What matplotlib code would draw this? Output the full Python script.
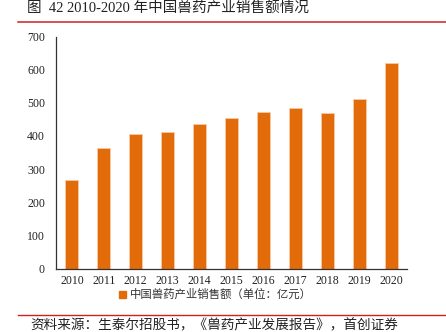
import matplotlib
matplotlib.use("Agg")
import matplotlib.pyplot as plt
from matplotlib.lines import Line2D
from matplotlib.patches import Rectangle

years = ["2010", "2011", "2012", "2013", "2014", "2015", "2016", "2017", "2018", "2019", "2020"]
sales = [266, 364, 406, 413, 436, 455, 473, 485, 468, 511, 621]
yticks = [0, 100, 200, 300, 400, 500, 600, 700]

title = "图  42 2010-2020 年中国兽药产业销售额情况"
legend_label = "中国兽药产业销售额（单位：亿元）"
source = "资料来源：生泰尔招股书，《兽药产业发展报告》，首创证券"

bar_color = "#E36C0A"
cjk = ["Noto Sans CJK SC", "DejaVu Sans"]
serif = ["Liberation Serif", "Noto Sans CJK SC"]

W, H = 446, 332
fig = plt.figure(figsize=(W / 100, H / 100), dpi=100)

ax = fig.add_axes([56 / W, 1 - 268.5 / H, (407 - 56) / W, (268.5 - 36.5) / H])
x = range(len(years))
ax.bar(x, sales, width=0.41, color=bar_color, edgecolor="#F6C9A6", linewidth=0.6)
ax.set_xlim(-0.5, len(years) - 0.5)
ax.set_ylim(0, 700)
ax.set_yticks(yticks)
ax.set_xticks(list(x))
ax.set_xticklabels(years)
for lbl in ax.get_xticklabels() + ax.get_yticklabels():
    lbl.set_family(serif)
    lbl.set_fontsize(8.5)
    lbl.set_color("#222222")
ax.tick_params(axis="both", length=0)
ax.tick_params(axis="y", pad=8)
ax.tick_params(axis="x", pad=5)
for side in ("top", "right"):
    ax.spines[side].set_visible(False)
for side in ("left", "bottom"):
    ax.spines[side].set_color("#333333")
    ax.spines[side].set_linewidth(0.9)

# legend entry below the axis
fig.patches.append(Rectangle((119 / W, 1 - 297.5 / H), 7 / W, 7 / H,
                             transform=fig.transFigure, color=bar_color))
fig.text(130 / W, 1 - 294 / H, legend_label, family=cjk, fontsize=8.2,
         color="#333333", va="center", ha="left")

# title and rules
fig.text(27 / W, 1 - 9 / H, title, family=["Liberation Serif", "Noto Sans CJK SC"],
         fontsize=10.5, color="#222222", va="center", ha="left")
fig.lines.append(Line2D([18 / W, 1], [1 - 21.5 / H] * 2, transform=fig.transFigure,
                        color="#D02020", linewidth=1.1))
fig.lines.append(Line2D([18 / W, 1], [1 - 315 / H] * 2, transform=fig.transFigure,
                        color="#D02020", linewidth=1.0))
fig.text(30 / W, 1 - 325 / H, source, family=cjk, fontsize=9.8, style="italic",
         color="#222222", va="center", ha="left")

fig.savefig("out.png", dpi=100)
